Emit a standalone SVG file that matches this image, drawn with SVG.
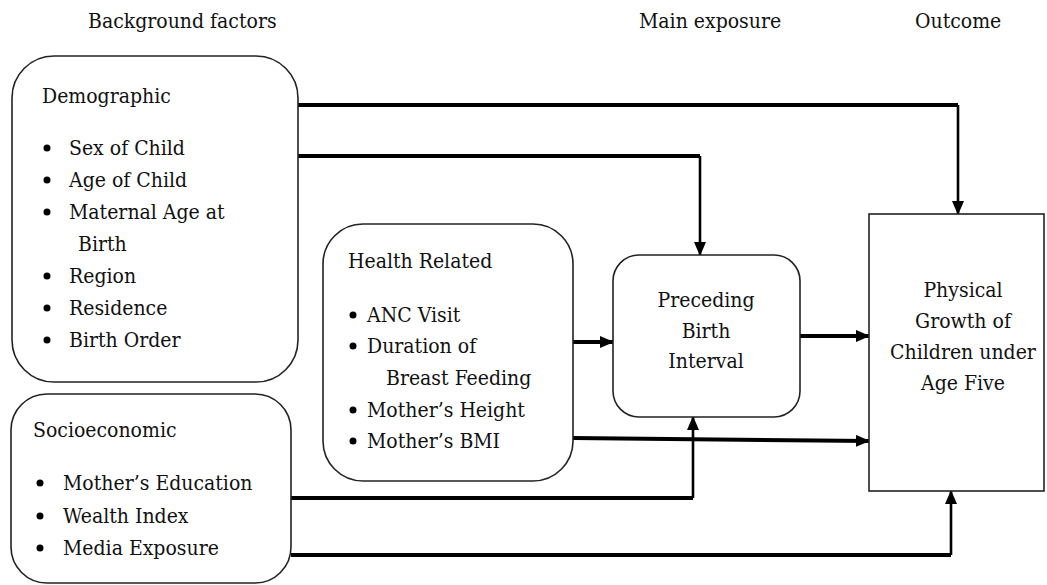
<svg xmlns="http://www.w3.org/2000/svg" width="1047" height="585" viewBox="0 0 1047 585">
<style>
text{font-family:'DejaVu Serif Condensed','DejaVu Serif',serif;font-stretch:condensed;font-size:21px;fill:#111}
.box{fill:#fff;stroke:#222;stroke-width:1.6}
.c{fill:none;stroke:#000;stroke-width:4}
.v{fill:none;stroke:#000;stroke-width:2.6}
.mid{text-anchor:middle}
</style>
<defs>
<marker id="ah" markerUnits="userSpaceOnUse" markerWidth="14" markerHeight="12" viewBox="0 0 14 12" refX="13" refY="6" orient="auto">
<path d="M0,0 L14,6 L0,12 z" fill="#000"/>
</marker>
</defs>
<rect width="1047" height="585" fill="#fff"/>
<g id="headers">
<text x="88" y="28">Background factors</text>
<text x="639" y="28">Main exposure</text>
<text x="915" y="28">Outcome</text>
</g>
<g id="connectors">
<polyline class="c" points="298,105 958,105"/>
<polyline class="v" points="958,105 958,214" marker-end="url(#ah)"/>
<polyline class="c" points="298,156 700,156"/>
<polyline class="v" points="700,156 700,255" marker-end="url(#ah)"/>
<line class="c" x1="573" y1="342" x2="613" y2="342" marker-end="url(#ah)"/>
<line class="c" x1="800" y1="336" x2="869" y2="336" marker-end="url(#ah)"/>
<line class="c" x1="573" y1="438" x2="869" y2="441" marker-end="url(#ah)"/>
<polyline class="c" points="291,498 693,498"/>
<polyline class="v" points="693,498 693,417" marker-end="url(#ah)"/>
<polyline class="c" points="291,555 951,555"/>
<polyline class="v" points="951,555 951,491" marker-end="url(#ah)"/>
</g>
<g id="demographic">
<rect class="box" x="12" y="56" width="286" height="326" rx="42" ry="42"/>
<text x="42" y="103">Demographic</text>
<g fill="#000"><circle cx="47" cy="148" r="3.5"/><circle cx="47" cy="180" r="3.5"/><circle cx="47" cy="212" r="3.5"/><circle cx="47" cy="276" r="3.5"/><circle cx="47" cy="308" r="3.5"/><circle cx="47" cy="340" r="3.5"/></g>
<text x="69" y="155">Sex of Child</text>
<text x="69" y="187">Age of Child</text>
<text x="69" y="219">Maternal Age at</text>
<text x="78" y="251">Birth</text>
<text x="69" y="283">Region</text>
<text x="69" y="315">Residence</text>
<text x="69" y="347">Birth Order</text>
</g>
<g id="socioeconomic">
<rect class="box" x="11" y="394" width="280" height="189" rx="36" ry="36"/>
<text x="33" y="437">Socioeconomic</text>
<g fill="#000"><circle cx="40" cy="483" r="3.5"/><circle cx="40" cy="516" r="3.5"/><circle cx="40" cy="548" r="3.5"/></g>
<text x="63" y="490">Mother’s Education</text>
<text x="63" y="523">Wealth Index</text>
<text x="63" y="555">Media Exposure</text>
</g>
<g id="health">
<rect class="box" x="323" y="224" width="250" height="257" rx="40" ry="40"/>
<text x="348" y="268">Health Related</text>
<g fill="#000"><circle cx="353" cy="315" r="3.5"/><circle cx="353" cy="346" r="3.5"/><circle cx="353" cy="410" r="3.5"/><circle cx="353" cy="441" r="3.5"/></g>
<text x="367" y="322">ANC Visit</text>
<text x="367" y="353">Duration of</text>
<text x="386" y="385">Breast Feeding</text>
<text x="367" y="417">Mother’s Height</text>
<text x="367" y="448">Mother’s BMI</text>
</g>
<g id="preceding">
<rect class="box" x="613" y="255" width="187" height="162" rx="26" ry="26"/>
<text class="mid" x="706" y="307">Preceding</text>
<text class="mid" x="706" y="338">Birth</text>
<text class="mid" x="706" y="368">Interval</text>
</g>
<g id="outcome">
<rect class="box" x="869" y="214" width="175" height="277"/>
<text class="mid" x="963" y="297">Physical</text>
<text class="mid" x="963" y="328">Growth of</text>
<text class="mid" x="963" y="359">Children under</text>
<text class="mid" x="963" y="390">Age Five</text>
</g>
</svg>
